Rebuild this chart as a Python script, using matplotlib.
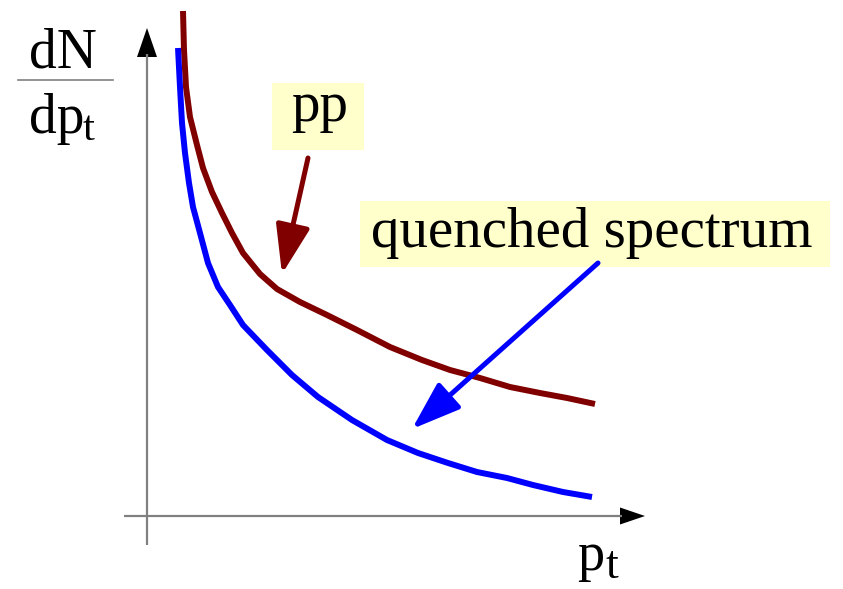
import matplotlib
matplotlib.use("Agg")
import matplotlib.pyplot as plt
from matplotlib.patches import Rectangle

plt.rcParams["font.family"] = ["Liberation Serif", "DejaVu Serif"]

# Schematic transverse-momentum spectra (arbitrary units)
pt_pp = [0.36, 0.37, 0.39, 0.43, 0.50, 0.56, 0.65, 0.75, 0.85, 0.96, 1.13, 1.30,
         1.53, 1.80, 2.10, 2.43, 2.75, 3.03, 3.33, 3.63, 3.93, 4.20, 4.48]
dn_pp = [5.05, 4.66, 4.29, 3.99, 3.71, 3.48, 3.24, 3.03, 2.83, 2.63, 2.42, 2.27,
         2.14, 2.01, 1.86, 1.69, 1.56, 1.46, 1.38, 1.29, 1.23, 1.18, 1.12]

pt_quenched = [0.31, 0.33, 0.35, 0.38, 0.42, 0.46, 0.53, 0.61, 0.71, 0.83, 0.96, 1.20,
               1.45, 1.71, 2.05, 2.40, 2.71, 3.01, 3.30, 3.60, 3.86, 4.16, 4.45]
dn_quenched = [4.68, 4.29, 3.93, 3.63, 3.33, 3.09, 2.83, 2.53, 2.29, 2.11, 1.91, 1.66,
               1.41, 1.19, 0.96, 0.76, 0.63, 0.53, 0.44, 0.38, 0.31, 0.24, 0.19]

RED = "#800000"
BLUE = "#0000FF"
GRAY = "#808080"
BOX = "#FFFFCC"

fig = plt.figure(figsize=(8.43, 5.89), dpi=100)
ax = fig.add_axes([0, 0, 1, 1])
ax.set_xlim(-1.47, 6.96)
ax.set_ylim(-0.73, 5.16)
ax.axis("off")

# Coordinate axes with filled arrow heads
ax.plot([-0.23, 4.75], [0, 0], color=GRAY, lw=1.6, solid_capstyle="butt")
ax.plot([0, 0], [-0.29, 4.62], color=GRAY, lw=1.6, solid_capstyle="butt")
ax.fill([4.73, 4.98, 4.73], [0.085, 0, -0.085], color="black", lw=0)
ax.fill([-0.10, 0, 0.10], [4.59, 4.88, 4.59], color="black", lw=0)

# Spectra
ax.plot(pt_pp, dn_pp, color=RED, lw=4.3, solid_capstyle="butt", solid_joinstyle="round")
ax.plot(pt_quenched, dn_quenched, color=BLUE, lw=4.3, solid_capstyle="butt",
        solid_joinstyle="round")

# Label boxes
ax.add_patch(Rectangle((1.25, 3.66), 0.92, 0.67, facecolor=BOX, edgecolor="none"))
ax.add_patch(Rectangle((2.13, 2.49), 4.70, 0.66, facecolor=BOX, edgecolor="none"))
ax.text(1.73, 3.95, "pp", fontsize=41, ha="center", va="baseline")
ax.text(4.45, 2.69, "quenched spectrum", fontsize=41, ha="center", va="baseline")

# Pointer arrows
ax.annotate("", xy=(1.35, 2.42), xytext=(1.61, 3.58),
            arrowprops=dict(arrowstyle="-|>,head_length=3.0,head_width=1.05",
                            mutation_scale=10, color=RED, lw=3.6,
                            shrinkA=0, shrinkB=0))
ax.annotate("", xy=(2.65, 0.87), xytext=(4.51, 2.53),
            arrowprops=dict(arrowstyle="-|>,head_length=3.0,head_width=1.05",
                            mutation_scale=10, color=BLUE, lw=3.6,
                            shrinkA=0, shrinkB=0))

# Axis titles: p_t on the horizontal axis, dN/dp_t on the vertical axis
ax.text(4.30, -0.535, "p", fontsize=39, ha="left", va="baseline")
ax.text(4.58, -0.625, "t", fontsize=33, ha="left", va="baseline")

ax.text(-1.18, 4.49, "dN", fontsize=40, ha="left", va="baseline")
ax.plot([-1.29, -0.34], [4.36, 4.36], color=GRAY, lw=1.2)
ax.text(-1.18, 3.83, "dp", fontsize=40, ha="left", va="baseline")
ax.text(-0.64, 3.76, "t", fontsize=31, ha="left", va="baseline")

fig.savefig("out.png", dpi=100)
